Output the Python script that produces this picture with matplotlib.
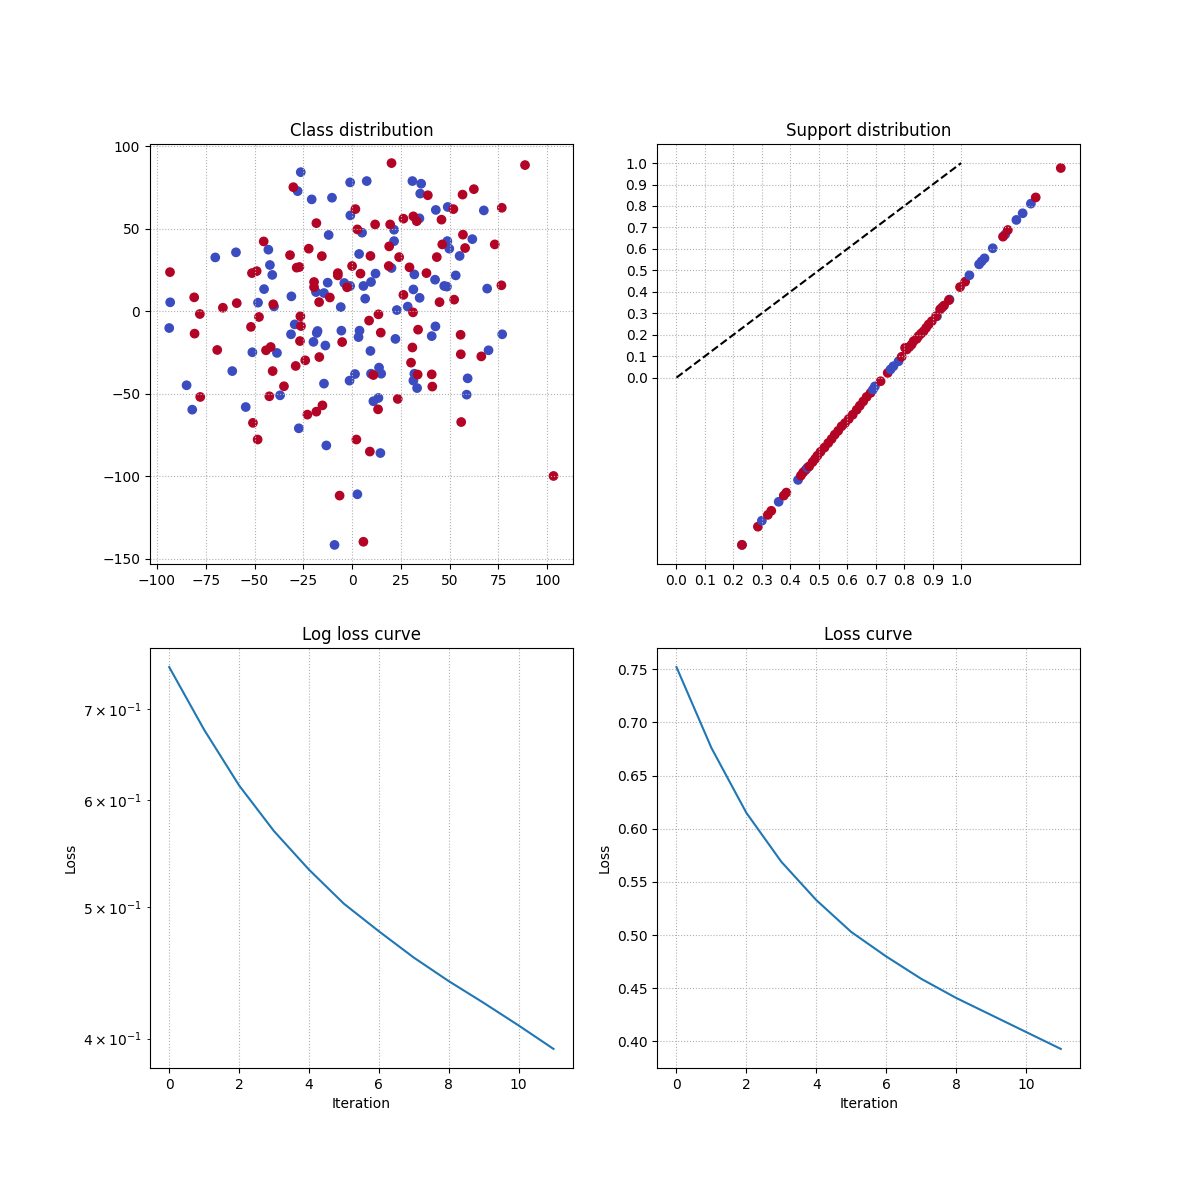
import numpy as np
import matplotlib
matplotlib.use('Agg')
import matplotlib.pyplot as plt

# class distribution: points (x, y), label 0 = blue, 1 = red
blue_pts = [
    (-26.3, 84.4), (-27.9, 72.9), (-20.7, 67.9), (-10.3, 68.9), (-1.0, 78.2), (7.5, 79.0),
    (-0.9, 58.2), (5.1, 47.7), (-12.0, 46.3), (-42.9, 37.4), (-59.5, 35.8), (-70.1, 32.7),
    (3.6, 34.8), (-42.1, 28.1), (-40.9, 22.1), (-12.5, 17.4), (-4.0, 17.2), (-1.0, 15.4),
    (5.8, 15.4), (-45.1, 13.5), (-18.5, 11.7), (-14.4, 11.1), (-31.1, 9.1), (-5.8, 2.6),
    (6.7, 7.7), (-93.2, 5.5), (-48.2, 5.3), (-40.0, 3.0), (-29.4, -7.9), (-93.7, -10.1),
    (-31.3, -13.9), (-17.7, -11.9), (-18.1, -13.1), (-5.5, -11.7), (3.8, -11.7), (3.3, -15.6),
    (-19.8, -18.5), (-13.7, -20.7), (-51.1, -24.8), (-38.5, -25.2), (-61.4, -36.2), (-84.8, -44.8),
    (-14.4, -43.8), (-1.3, -42.0), (1.5, -38.0), (-36.9, -50.9), (-81.9, -59.6), (-54.5, -58.0),
    (-27.3, -70.9), (-13.2, -81.3), (2.7, -110.9), (-9.0, -141.6),
    (30.9, 79.0), (35.4, 77.4), (34.9, 71.4), (42.9, 61.5), (49.0, 63.3), (67.5, 61.2),
    (34.5, 56.4), (21.5, 49.5), (21.5, 42.6), (61.6, 43.8), (48.8, 42.6), (49.8, 38.0),
    (55.1, 33.6), (20.2, 26.3), (31.9, 22.4), (12.0, 22.9), (9.7, 17.8), (42.5, 19.2),
    (47.2, 15.4), (48.6, 15.0), (53.1, 21.8), (31.4, 13.3), (34.6, 8.2), (69.2, 13.8),
    (28.5, 2.9), (22.9, 0.8), (42.7, -9.1), (40.8, -15.0), (22.2, -16.7), (76.9, -13.9),
    (9.4, -24.0), (69.9, -23.6), (13.8, -34.1), (14.9, -37.8), (9.7, -37.8), (31.9, -37.8),
    (31.4, -42.0), (33.3, -46.5), (59.2, -40.6), (58.7, -50.5), (13.5, -52.5), (10.9, -54.5),
    (14.5, -85.9),
]
red_pts = [
    (-30.1, 75.3), (1.7, 62.0), (-18.3, 53.5), (2.7, 49.7), (-45.3, 42.4), (-22.2, 38.0),
    (-31.8, 34.1), (-15.5, 33.5), (0.0, 27.5), (-28.4, 26.5), (-27.0, 26.9), (-51.3, 23.2),
    (-48.9, 24.4), (-93.3, 23.8), (-7.3, 23.2), (-7.3, 21.8), (4.3, 22.9), (-19.5, 17.8),
    (-19.5, 14.7), (-2.6, 14.6), (-11.4, 8.4), (-16.9, 5.6), (-80.9, 8.5), (-59.1, 5.0),
    (-66.2, 2.2), (-40.4, 4.3), (-78.0, -1.6), (-47.7, -3.4), (-26.5, -3.0), (-26.2, -8.9),
    (-51.8, -9.4), (-80.7, -13.5), (-26.7, -18.0), (-5.1, -18.6), (-69.1, -23.4), (-44.1, -23.6),
    (-41.7, -21.6), (-24.0, -29.7), (-16.8, -27.7), (-28.9, -33.1), (-40.7, -36.2), (-34.9, -45.4),
    (-77.8, -51.9), (-42.4, -51.5), (-15.2, -57.0), (-18.3, -60.8), (-22.9, -62.6), (-50.8, -67.6),
    (-48.4, -77.7), (2.2, -77.7), (-6.4, -111.7), (5.8, -139.7),
    (20.2, 89.9), (88.6, 88.7), (38.8, 70.4), (56.6, 70.8), (62.4, 74.1), (51.9, 62.0),
    (76.7, 62.8), (26.3, 56.2), (31.4, 57.6), (33.1, 54.7), (45.8, 55.6), (11.8, 52.7),
    (19.5, 52.7), (19.0, 39.4), (56.8, 46.5), (46.2, 40.6), (57.9, 38.4), (73.1, 40.6),
    (43.4, 32.9), (9.4, 33.6), (24.1, 32.9), (18.8, 27.5), (29.4, 26.7), (38.1, 23.2),
    (26.3, 10.0), (76.5, 15.8), (44.8, 5.6), (52.3, 7.1), (31.2, -0.6), (13.5, -1.8),
    (8.7, -5.6), (14.7, -12.9), (33.8, -11.1), (55.6, -14.2), (30.9, -21.9),
    (55.7, -26.0), (66.2, -27.3), (30.2, -31.1), (10.9, -38.6), (33.6, -38.3), (40.8, -38.2),
    (41.1, -45.6), (23.4, -53.1), (13.3, -59.4), (55.9, -67.1), (9.1, -85.0), (103.2, -99.8),
]

# support distribution: (x, y, label)
support_pts = [
    (0.230, -0.780, 0), (0.230, -0.780, 1), (0.286, -0.695, 1), (0.300, -0.667, 0),
    (0.321, -0.640, 1), (0.333, -0.621, 1), (0.359, -0.579, 0), (0.377, -0.550, 1),
    (0.386, -0.536, 1), (0.427, -0.477, 0), (0.437, -0.457, 1), (0.445, -0.442, 1),
    (0.454, -0.430, 1), (0.460, -0.420, 0), (0.466, -0.414, 1), (0.478, -0.394, 1),
    (0.487, -0.379, 1), (0.495, -0.364, 1), (0.506, -0.346, 1), (0.520, -0.326, 1),
    (0.533, -0.305, 1), (0.545, -0.286, 1), (0.556, -0.266, 1), (0.568, -0.248, 1),
    (0.580, -0.227, 1), (0.592, -0.212, 1), (0.605, -0.193, 1), (0.619, -0.173, 1),
    (0.633, -0.150, 1), (0.644, -0.131, 1), (0.656, -0.111, 1), (0.668, -0.090, 1),
    (0.682, -0.071, 1), (0.690, -0.056, 0), (0.697, -0.041, 0), (0.717, -0.017, 1),
    (0.742, 0.022, 1), (0.752, 0.038, 0), (0.762, 0.053, 0), (0.780, 0.076, 0),
    (0.791, 0.097, 1), (0.803, 0.139, 1), (0.809, 0.131, 1), (0.818, 0.143, 1),
    (0.826, 0.154, 1), (0.833, 0.170, 1), (0.844, 0.181, 1), (0.850, 0.193, 1),
    (0.859, 0.205, 1), (0.868, 0.216, 1), (0.877, 0.232, 1), (0.886, 0.248, 1),
    (0.897, 0.263, 1), (0.915, 0.286, 0), (0.912, 0.286, 1), (0.926, 0.318, 1),
    (0.933, 0.327, 1), (0.940, 0.336, 1), (0.959, 0.364, 0), (0.957, 0.361, 1),
    (0.996, 0.422, 1), (1.014, 0.447, 1), (1.029, 0.477, 0), (1.063, 0.528, 0),
    (1.072, 0.542, 0), (1.082, 0.556, 0), (1.111, 0.603, 0), (1.155, 0.668, 0),
    (1.147, 0.657, 1), (1.164, 0.688, 1), (1.194, 0.735, 0), (1.216, 0.766, 0),
    (1.245, 0.811, 0), (1.262, 0.840, 1), (1.350, 0.977, 1),
]

iterations = list(range(12))
loss = [0.752, 0.676, 0.615, 0.569, 0.533, 0.503, 0.480, 0.459, 0.441, 0.425, 0.409, 0.393]

pts = np.array(blue_pts + red_pts)
labels = np.array([0] * len(blue_pts) + [1] * len(red_pts))
sup = np.array(support_pts)

fig, axes = plt.subplots(2, 2, figsize=(12, 12))

ax = axes[0, 0]
ax.scatter(pts[:, 0], pts[:, 1], c=labels, cmap='coolwarm')
ax.set_title('Class distribution')
ax.grid(linestyle=':')

ax = axes[0, 1]
ax.scatter(sup[:, 0], sup[:, 1], c=sup[:, 2], cmap='coolwarm')
ax.plot([0, 1], [0, 1], 'k--')
ax.set_xticks(np.arange(0, 1.1, 0.1))
ax.set_yticks(np.arange(0, 1.1, 0.1))
ax.set_title('Support distribution')
ax.grid(linestyle=':')

ax = axes[1, 0]
ax.plot(iterations, loss)
ax.set_yscale('log')
ax.set_title('Log loss curve')
ax.set_xlabel('Iteration')
ax.set_ylabel('Loss')
ax.grid(linestyle=':')

ax = axes[1, 1]
ax.plot(iterations, loss)
ax.set_title('Loss curve')
ax.set_xlabel('Iteration')
ax.set_ylabel('Loss')
ax.grid(linestyle=':')

plt.savefig('out.png', dpi=100)
